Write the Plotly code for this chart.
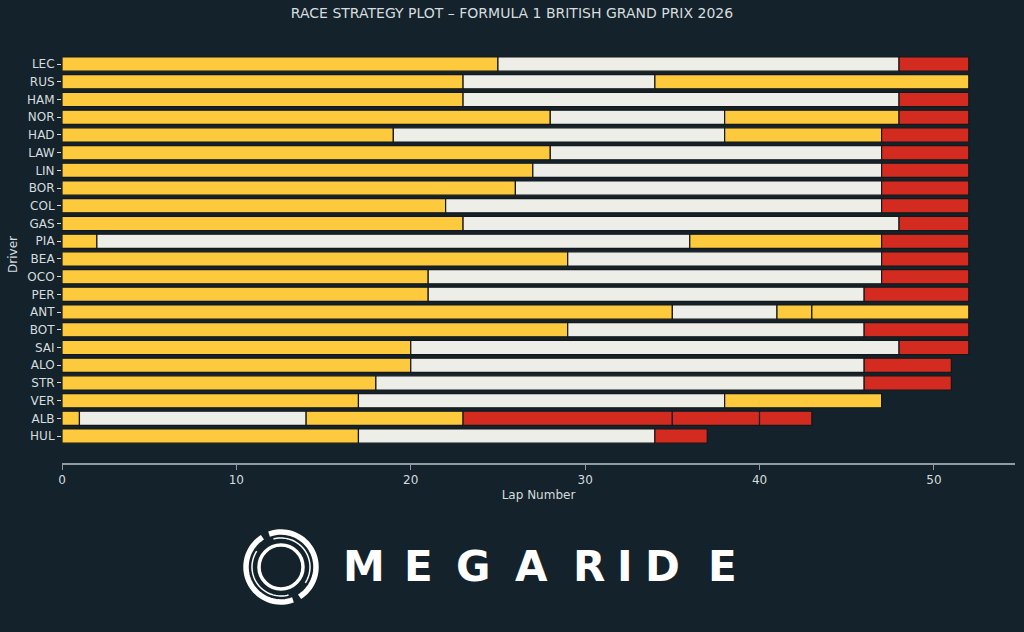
import math
import plotly.graph_objects as go

drivers = ["LEC", "RUS", "HAM", "NOR", "HAD", "LAW", "LIN", "BOR", "COL", "GAS", "PIA",
           "BEA", "OCO", "PER", "ANT", "BOT", "SAI", "ALO", "STR", "VER", "ALB", "HUL"]

# compounds of each stint, per driver
stint_compounds = [
    ["MEDIUM", "HARD", "SOFT"],
    ["MEDIUM", "HARD", "MEDIUM"],
    ["MEDIUM", "HARD", "SOFT"],
    ["MEDIUM", "HARD", "MEDIUM", "SOFT"],
    ["MEDIUM", "HARD", "MEDIUM", "SOFT"],
    ["MEDIUM", "HARD", "SOFT"],
    ["MEDIUM", "HARD", "SOFT"],
    ["MEDIUM", "HARD", "SOFT"],
    ["MEDIUM", "HARD", "SOFT"],
    ["MEDIUM", "HARD", "SOFT"],
    ["MEDIUM", "HARD", "MEDIUM", "SOFT"],
    ["MEDIUM", "HARD", "SOFT"],
    ["MEDIUM", "HARD", "SOFT"],
    ["MEDIUM", "HARD", "SOFT"],
    ["MEDIUM", "HARD", "MEDIUM", "MEDIUM"],
    ["MEDIUM", "HARD", "SOFT"],
    ["MEDIUM", "HARD", "SOFT"],
    ["MEDIUM", "HARD", "SOFT"],
    ["MEDIUM", "HARD", "SOFT"],
    ["MEDIUM", "HARD", "MEDIUM"],
    ["MEDIUM", "HARD", "MEDIUM", "SOFT", "SOFT", "SOFT"],
    ["MEDIUM", "HARD", "SOFT"],
]

# last lap of each stint, per driver
stint_ends = [
    [25, 48, 52],
    [23, 34, 52],
    [23, 48, 52],
    [28, 38, 48, 52],
    [19, 38, 47, 52],
    [28, 47, 52],
    [27, 47, 52],
    [26, 47, 52],
    [22, 47, 52],
    [23, 48, 52],
    [2, 36, 47, 52],
    [29, 47, 52],
    [21, 47, 52],
    [21, 46, 52],
    [35, 41, 43, 52],
    [29, 46, 52],
    [20, 48, 52],
    [20, 46, 51],
    [18, 46, 51],
    [17, 38, 47],
    [1, 14, 23, 35, 40, 43],
    [17, 34, 37],
]

x_ticks = [0, 10, 20, 30, 40, 50]

compound_colors = {"SOFT": "#D42B21", "MEDIUM": "#FECA3D", "HARD": "#EEEEE9"}

BG = "#13222B"
TXT = "#D6DCDF"

fig = go.Figure()

max_stints = max(len(s) for s in stint_ends)
for k in range(max_stints):
    ys, bases, lens, cols = [], [], [], []
    for d, ends, comps in zip(drivers, stint_ends, stint_compounds):
        if k < len(ends):
            start = 0 if k == 0 else ends[k - 1]
            ys.append(d)
            bases.append(start)
            lens.append(ends[k] - start)
            cols.append(compound_colors[comps[k]])
    fig.add_trace(go.Bar(
        y=ys, x=lens, base=bases, orientation="h",
        marker=dict(color=cols, line=dict(color="#14181a", width=1.2)),
        width=0.8, showlegend=False, hoverinfo="skip",
    ))

# plot area in pixels
L, R, T, B = 62, 1015, 46, 463
W, H = 1024, 632

fig.update_layout(
    width=W, height=H,
    margin=dict(l=L, r=W - R, t=T, b=H - B, pad=0),
    paper_bgcolor=BG, plot_bgcolor=BG,
    barmode="overlay",
    font=dict(family="DejaVu Sans", color=TXT, size=12),
    title=dict(text="RACE STRATEGY PLOT – FORMULA 1 BRITISH GRAND PRIX 2026",
               x=0.5, xanchor="center", y=1 - 13 / H, yanchor="middle",
               font=dict(family="DejaVu Sans", size=14, color=TXT)),
    xaxis=dict(range=[0, 54.65], tickvals=x_ticks, showgrid=False, zeroline=False,
               showline=True, linecolor="#8E9BA1", linewidth=1.5,
               ticks="outside", ticklen=5, tickcolor="#8E9BA1", tickwidth=1,
               tickfont=dict(size=12, color=TXT),
               title=dict(text="Lap Number", font=dict(size=12, color=TXT), standoff=4)),
    yaxis=dict(categoryorder="array", categoryarray=drivers, type="category",
               range=[22.52, -1.02], showgrid=False, zeroline=False, showline=False,
               ticks="outside", ticklen=4, tickcolor=TXT, tickwidth=1,
               tickfont=dict(size=12, color=TXT),
               title=dict(text="Driver", font=dict(size=12, color=TXT), standoff=6)),
)


def px_x(px):
    return (px - L) / (R - L)


def px_y(py):
    return (B - py) / (B - T)


# ---- MEGARIDE logo ----
cx, cy = 281, 567


def arc_path(r, a0, a1, n=40):
    pts = []
    for i in range(n + 1):
        a = math.radians(a0 + (a1 - a0) * i / n)
        pts.append((px_x(cx + r * math.cos(a)), px_y(cy - r * math.sin(a))))
    return "M " + " L ".join(f"{x:.5f},{y:.5f}" for x, y in pts)


for a0, a1 in [(122, 290), (-58, 110)]:
    fig.add_shape(type="path", xref="paper", yref="paper", path=arc_path(35, a0, a1),
                  line=dict(color="white", width=5.5))
    fig.add_shape(type="path", xref="paper", yref="paper", path=arc_path(29, a0 + 25, a1 - 5),
                  line=dict(color="white", width=1.5))
fig.add_shape(type="circle", xref="paper", yref="paper",
              x0=px_x(cx - 22), x1=px_x(cx + 22), y0=px_y(cy + 22), y1=px_y(cy - 22),
              line=dict(color="white", width=3.5))

logo_letters = ["M", "E", "G", "A", "R", "I", "D", "E"]
logo_centers = [364, 418, 473, 531, 589, 625, 662, 722]
for ch, xc in zip(logo_letters, logo_centers):
    fig.add_annotation(text=f"<b>{ch}</b>", xref="paper", yref="paper", x=px_x(xc), y=px_y(566),
                       xanchor="center", yanchor="middle", showarrow=False,
                       font=dict(family="DejaVu Sans", size=42, color="white"))

fig.write_html("out.html")
